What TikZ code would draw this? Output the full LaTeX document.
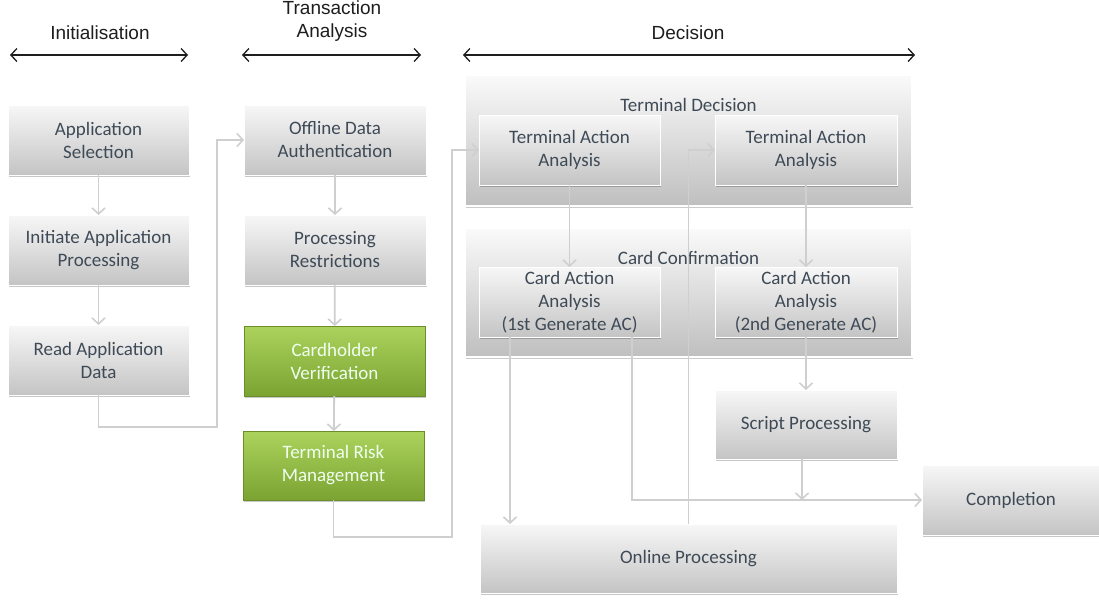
\documentclass[tikz,border=0pt]{standalone}
\usepackage{fontspec}
\setmainfont{Carlito}
\newfontfamily\hdrfont{Liberation Sans}
\usetikzlibrary{arrows.meta,shadows}
\definecolor{boxtxt}{HTML}{3E4A56}
\definecolor{boxtop}{HTML}{F7F7F7}
\definecolor{boxbot}{HTML}{C4C4C4}
\definecolor{grptop}{HTML}{FAFAFA}
\definecolor{grpbot}{HTML}{BFBFBF}
\definecolor{grntop}{HTML}{ABD35C}
\definecolor{grnbot}{HTML}{7AA332}
\definecolor{grnedge}{HTML}{6B8E2A}
\definecolor{connc}{HTML}{CFCFCF}
\definecolor{hdrc}{HTML}{1E1E1E}
\begin{document}
\begin{tikzpicture}[x=1pt,y=-1pt,
  boxbase/.style={rectangle, inner sep=0pt, outer sep=0pt, align=center,
    font=\fontsize{19}{23}\selectfont,
    drop shadow={shadow xshift=0.6pt, shadow yshift=-2pt, opacity=0.22, fill=black}},
  gbox/.style={boxbase, draw=white, line width=1pt, top color=boxtop, bottom color=boxbot, text=boxtxt},
  greenbox/.style={boxbase, draw=grnedge, line width=0.8pt, top color=grntop, bottom color=grnbot, text=white!94!green},
  grpbox/.style={rectangle, inner sep=0pt, outer sep=0pt, draw=white, line width=1.2pt,
    top color=grptop, bottom color=grpbot,
    drop shadow={shadow xshift=0.6pt, shadow yshift=-2pt, opacity=0.2, fill=black}},
  grptitle/.style={font=\fontsize{19}{23}\selectfont, text=boxtxt, inner sep=0pt},
  conn/.style={draw=connc, line width=1.8pt, -{Straight Barb[length=6pt,width=13pt,line width=1.6pt]}},
  hdrarrow/.style={draw=hdrc, line width=1.3pt, {Straight Barb[length=6pt,width=13pt]}-{Straight Barb[length=6pt,width=13pt]}},
  hdrtext/.style={font=\hdrfont\fontsize{19}{23}\selectfont, text=hdrc, align=center, inner sep=0pt}
]
\useasboundingbox[fill=white] (0,0) rectangle (1099,603);

% headers
\node[hdrtext] (hinit) at (100,33) {Initialisation};
\node[hdrtext] (htrans) at (332,21) {Transaction\\Analysis};
\node[hdrtext] (hdec) at (688,33) {Decision};
\coordinate (ia) at (10,55); \coordinate (ib) at (188,55);
\coordinate (ta) at (242,55); \coordinate (tb) at (421,55);
\coordinate (da) at (463,55); \coordinate (db) at (915,55);
\draw[hdrarrow] (ia) -- (ib);
\draw[hdrarrow] (ta) -- (tb);
\draw[hdrarrow] (da) -- (db);

% groups
\node[grpbox, minimum width=447pt, minimum height=131pt] (tdgrp) at (688.5,140.5) {};
\node[grptitle] (tdtitle) at (688.5,105) {Terminal Decision};
\node[grpbox, minimum width=447pt, minimum height=129pt] (ccgrp) at (688.5,292.5) {};
\node[grptitle] (cctitle) at (688.5,258) {Card Confirmation};

% column 1
\node[gbox, minimum width=181pt, minimum height=70pt] (appsel) at (98.5,140) {Application\\Selection};
\node[gbox, minimum width=181pt, minimum height=70pt] (initapp) at (98.5,250) {Initiate Application\\Processing};
\node[gbox, minimum width=181pt, minimum height=70pt] (readapp) at (98.5,360) {Read Application\\Data};

% column 2
\node[gbox, minimum width=182pt, minimum height=70pt] (oda) at (335,140) {Offline Data\\Authentication};
\node[gbox, minimum width=182pt, minimum height=70pt] (pr) at (335,250) {Processing\\Restrictions};
\node[greenbox, minimum width=181pt, minimum height=70pt] (cv) at (334.5,361) {Cardholder\\Verification};
\node[greenbox, minimum width=181pt, minimum height=69pt] (trm) at (333.5,465.5) {Terminal Risk\\Management};

% decision
\node[gbox, minimum width=181pt, minimum height=70pt] (taa1) at (569.5,150) {Terminal Action\\Analysis};
\node[gbox, minimum width=182pt, minimum height=70pt] (taa2) at (806,150) {Terminal Action\\Analysis};
\node[gbox, minimum width=181pt, minimum height=70pt] (caa1) at (569.5,302) {Card Action\\Analysis\\(1st Generate AC)};
\node[gbox, minimum width=182pt, minimum height=70pt] (caa2) at (806,302) {Card Action\\Analysis\\(2nd Generate AC)};
\node[gbox, minimum width=182pt, minimum height=69pt] (sp) at (806,424.5) {Script Processing};
\node[gbox, minimum width=417pt, minimum height=69pt] (op) at (688.5,558.5) {Online Processing};
\node[gbox, minimum width=178pt, minimum height=70pt] (comp) at (1011,500) {Completion};

% connectors
\draw[conn] (appsel) -- (initapp);
\draw[conn] (initapp) -- (readapp);
\draw[conn] (readapp.south) -- ++(0,32) -| ([xshift=-27pt]oda.west) -- (oda.west);
\draw[conn] (oda) -- (pr);
\draw[conn] (pr) -- (cv);
\draw[conn] (cv) -- (trm);
\draw[conn] (trm.south) -- ++(0,37) -| ([xshift=-27pt]taa1.west) -- (taa1.west);
\draw[conn] (taa1.south) -- (caa1.north);
\draw[conn] (taa2.south) -- (caa2.north);
\draw[conn] ([xshift=-59.5pt]caa1.south) -- ([xshift=-59.5pt]caa1.south |- op.north);
\draw[conn] ([xshift=62.5pt]caa1.south) |- (comp.west);
\draw[conn] (op.north) |- (taa2.west);
\draw[conn] (caa2.south) -- (sp.north);
\draw[conn] ([xshift=-4pt]sp.south) -- ([xshift=-4pt]sp.south |- comp.west);
\end{tikzpicture}
\end{document}
